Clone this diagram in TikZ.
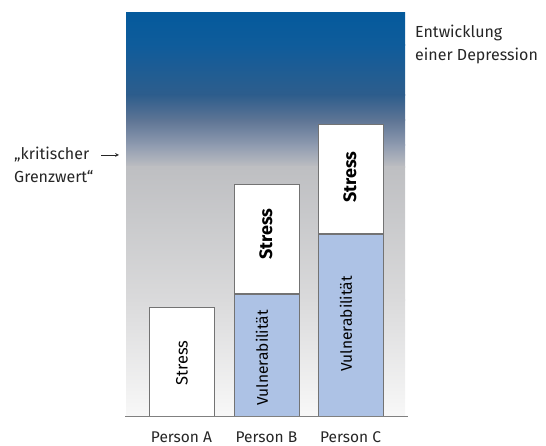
\documentclass[tikz,border=0pt]{standalone}
\usepackage{fontspec}
\setmainfont{Fira Sans}
\begin{document}
\begin{tikzpicture}[x=1pt,y=-1pt,
  box/.style={draw=black!55,line width=0.8pt,fill=white,inner sep=0pt},
  vul/.style={draw=black!55,line width=0.8pt,fill=vblue,inner sep=0pt},
  lab/.style={font=\fontsize{15.5}{17}\selectfont,text=black!85},
  side/.style={font=\fontsize{16}{23}\selectfont,align=left,text=black!85,inner sep=0pt,anchor=west}]
\definecolor{vblue}{HTML}{ADC2E5}
\definecolor{c1}{HTML}{055A9C}
\definecolor{c2}{HTML}{0F5C9B}
\definecolor{c3}{HTML}{2E5D8C}
\definecolor{c4}{HTML}{5E7595}
\definecolor{c5}{HTML}{8F9BB0}
\definecolor{c6}{HTML}{BEBFC2}
\definecolor{c7}{HTML}{DADADB}
\definecolor{c8}{HTML}{F8F8F8}
\useasboundingbox (0,0) rectangle (546,446);
% background gradient
\shade[top color=c1,bottom color=c2] (126,13) rectangle (405,45.5);
\shade[top color=c2,bottom color=c3] (126,45) rectangle (405,95.5);
\shade[top color=c3,bottom color=c4] (126,95) rectangle (405,120.5);
\shade[top color=c4,bottom color=c5] (126,120) rectangle (405,145.5);
\shade[top color=c5,bottom color=c6] (126,145) rectangle (405,167.5);
\shade[top color=c6,bottom color=c7] (126,167) rectangle (405,300.5);
\shade[top color=c7,bottom color=c8] (126,300) rectangle (405,416);
% bars
\node[box,minimum width=65pt,minimum height=109pt,anchor=north west] (sa) at (149,307) {};
\node[vul,minimum width=65pt,minimum height=122pt,anchor=north west] (vb) at (234,294) {};
\node[box,minimum width=65pt,minimum height=109pt,anchor=south west] (sb) at (vb.north west) {};
\node[vul,minimum width=65pt,minimum height=182pt,anchor=north west] (vc) at (318,234) {};
\node[box,minimum width=65pt,minimum height=109pt,anchor=south west] (sc) at (vc.north west) {};
% bar texts
\node[rotate=90,font=\fontsize{16.5}{18}\selectfont] at ([yshift=-1pt]sa.center) {Stress};
\node[rotate=90,font=\bfseries\fontsize{18}{20}\selectfont] at ([xshift=-1pt,yshift=5pt]sb.center) {Stress};
\node[rotate=90,font=\bfseries\fontsize{18}{20}\selectfont] at ([xshift=-1pt,yshift=2pt]sc.center) {Stress};
\node[rotate=90,font=\fontsize{15.5}{17}\selectfont,anchor=west] at (262,409) {Vulnerabilität};
\node[rotate=90,font=\fontsize{15.5}{17}\selectfont,anchor=west] at (346,375) {Vulnerabilität};
% axis
\coordinate (ax0) at (125,416.5);
\coordinate (ax1) at (408,416.5);
\draw[black!50,line width=1.5pt] (ax0) -- (ax1);
% person labels
\node[lab] (pa) at (181.5,437) {Person A};
\node[lab] (pb) at (266.5,437) {Person B};
\node[lab] (pc) at (350.5,437) {Person C};
% side texts
\node[side] (dep) at (415,44) {Entwicklung\\einer Depression};
\node[side] (krit) at (14,165) {„kritischer\\Grenzwert“};
\coordinate (arrend) at (119,155);
\draw[-stealth,black!85,line width=0.7pt] (101,155) -- (arrend);
\end{tikzpicture}
\end{document}
